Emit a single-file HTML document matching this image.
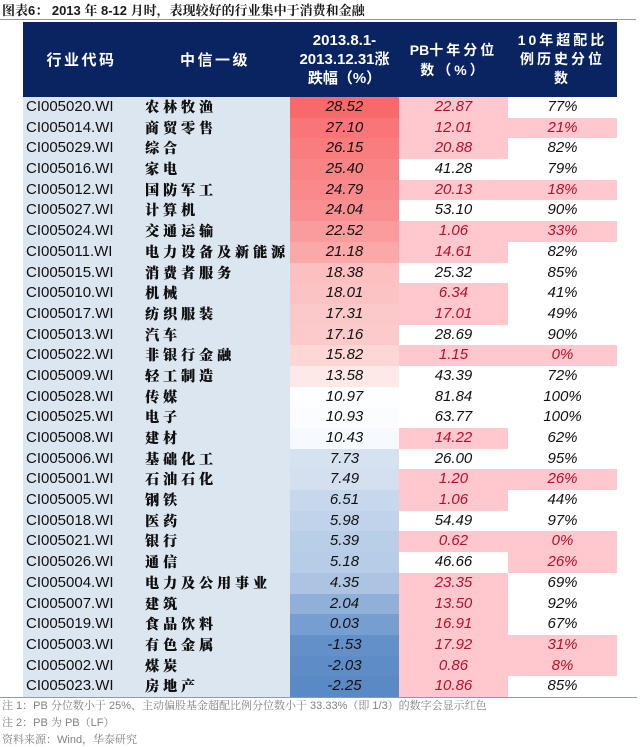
<!DOCTYPE html>
<html><head><meta charset="utf-8">
<style>
*{margin:0;padding:0;box-sizing:border-box}
body{width:640px;height:747px;background:#fff;position:relative;overflow:hidden;font-family:"Liberation Sans","Noto Sans CJK SC",sans-serif}
.title{position:absolute;left:2px;top:2px;font-size:13px;font-weight:bold;color:#1a1a1a;white-space:nowrap;line-height:18px;font-family:"Liberation Sans","Noto Serif CJK SC",serif}
.tline{position:absolute;left:0;top:19px;width:636px;height:1px;background:#8a9ab0}
.hdr{position:absolute;left:23px;top:22px;width:594px;height:75px;background:#0a2462;color:#fff;font-weight:bold}
.hc{position:absolute;top:0;height:75px;display:flex;align-items:center;justify-content:center;text-align:center}
.rows{position:absolute;left:23px;top:97px;width:594px}
.row{display:flex;height:20.69px;line-height:20.69px;font-size:15px}
.c1{width:117px;background:#dce6f1;padding-left:3px;color:#111;white-space:nowrap}
.c2{width:150px;background:#dce6f1;padding-left:5px;font-family:"Noto Serif CJK SC","Noto Sans CJK SC",serif;font-weight:900;font-size:14px;letter-spacing:4px;color:#111;white-space:nowrap;text-shadow:0.3px 0 0 #111}
.c3,.c4,.c5{width:109px;text-align:center;font-style:italic;color:#111}
.p{background:#ffc7ce;color:#b0122a}
.bline{position:absolute;left:0;top:697px;width:637px;height:1px;background:#8a9ab0}
.note{position:absolute;left:2px;font-size:11px;color:#808080;white-space:nowrap;line-height:14px;font-family:"Liberation Sans","Noto Serif CJK SC",serif}
</style></head><body>
<div class="title">图表6：&nbsp;2013 年 8-12 月时，表现较好的行业集中于消费和金融</div>
<div class="tline"></div>
<div class="hdr">
  <div class="hc" style="left:0;width:117px;font-size:15px;letter-spacing:2.5px">行业代码</div>
  <div class="hc" style="left:117px;width:150px;font-size:15px;letter-spacing:2.5px">中信一级</div>
  <div class="hc" style="left:267px;width:109px;font-size:15px;line-height:19px">2013.8.1-<br>2013.12.31涨<br>跌幅（%）</div>
  <div class="hc" style="left:376px;width:109px;font-size:14px;line-height:20px"><span><span>PB</span><span style="letter-spacing:3px">十年分位</span><br><span style="letter-spacing:3px">数（%）</span></span></div>
  <div class="hc" style="left:485px;width:109px;font-size:14px;line-height:19px;letter-spacing:3px">10年超配比<br>例历史分位<br>数</div>
</div>
<div class="rows">
<div class="row"><div class="c1">CI005020.WI</div><div class="c2">农林牧渔</div><div class="c3" style="background:rgb(248,105,107)">28.52</div><div class="c4 p">22.87</div><div class="c5">77%</div></div>
<div class="row"><div class="c1">CI005014.WI</div><div class="c2">商贸零售</div><div class="c3" style="background:rgb(249,117,119)">27.10</div><div class="c4 p">12.01</div><div class="c5 p">21%</div></div>
<div class="row"><div class="c1">CI005029.WI</div><div class="c2">综合</div><div class="c3" style="background:rgb(249,125,127)">26.15</div><div class="c4 p">20.88</div><div class="c5">82%</div></div>
<div class="row"><div class="c1">CI005016.WI</div><div class="c2">家电</div><div class="c3" style="background:rgb(249,132,133)">25.40</div><div class="c4">41.28</div><div class="c5">79%</div></div>
<div class="row"><div class="c1">CI005012.WI</div><div class="c2">国防军工</div><div class="c3" style="background:rgb(249,137,139)">24.79</div><div class="c4 p">20.13</div><div class="c5 p">18%</div></div>
<div class="row"><div class="c1">CI005027.WI</div><div class="c2">计算机</div><div class="c3" style="background:rgb(250,143,145)">24.04</div><div class="c4">53.10</div><div class="c5">90%</div></div>
<div class="row"><div class="c1">CI005024.WI</div><div class="c2">交通运输</div><div class="c3" style="background:rgb(250,156,158)">22.52</div><div class="c4 p">1.06</div><div class="c5 p">33%</div></div>
<div class="row"><div class="c1">CI005011.WI</div><div class="c2">电力设备及新能源</div><div class="c3" style="background:rgb(251,168,169)">21.18</div><div class="c4 p">14.61</div><div class="c5">82%</div></div>
<div class="row"><div class="c1">CI005015.WI</div><div class="c2">消费者服务</div><div class="c3" style="background:rgb(252,192,193)">18.38</div><div class="c4">25.32</div><div class="c5">85%</div></div>
<div class="row"><div class="c1">CI005010.WI</div><div class="c2">机械</div><div class="c3" style="background:rgb(252,195,196)">18.01</div><div class="c4 p">6.34</div><div class="c5">41%</div></div>
<div class="row"><div class="c1">CI005017.WI</div><div class="c2">纺织服装</div><div class="c3" style="background:rgb(252,201,202)">17.31</div><div class="c4 p">17.01</div><div class="c5">49%</div></div>
<div class="row"><div class="c1">CI005013.WI</div><div class="c2">汽车</div><div class="c3" style="background:rgb(253,202,203)">17.16</div><div class="c4">28.69</div><div class="c5">90%</div></div>
<div class="row"><div class="c1">CI005022.WI</div><div class="c2">非银行金融</div><div class="c3" style="background:rgb(253,214,214)">15.82</div><div class="c4 p">1.15</div><div class="c5 p">0%</div></div>
<div class="row"><div class="c1">CI005009.WI</div><div class="c2">轻工制造</div><div class="c3" style="background:rgb(254,233,233)">13.58</div><div class="c4">43.39</div><div class="c5">72%</div></div>
<div class="row"><div class="c1">CI005028.WI</div><div class="c2">传媒</div><div class="c3" style="background:rgb(253,254,255)">10.97</div><div class="c4">81.84</div><div class="c5">100%</div></div>
<div class="row"><div class="c1">CI005025.WI</div><div class="c2">电子</div><div class="c3" style="background:rgb(250,252,254)">10.93</div><div class="c4">63.77</div><div class="c5">100%</div></div>
<div class="row"><div class="c1">CI005008.WI</div><div class="c2">建材</div><div class="c3" style="background:rgb(246,249,253)">10.43</div><div class="c4 p">14.22</div><div class="c5">62%</div></div>
<div class="row"><div class="c1">CI005006.WI</div><div class="c2">基础化工</div><div class="c3" style="background:rgb(215,226,241)">7.73</div><div class="c4">26.00</div><div class="c5">95%</div></div>
<div class="row"><div class="c1">CI005001.WI</div><div class="c2">石油石化</div><div class="c3" style="background:rgb(212,224,240)">7.49</div><div class="c4 p">1.20</div><div class="c5 p">26%</div></div>
<div class="row"><div class="c1">CI005005.WI</div><div class="c2">钢铁</div><div class="c3" style="background:rgb(199,216,236)">6.51</div><div class="c4 p">1.06</div><div class="c5">44%</div></div>
<div class="row"><div class="c1">CI005018.WI</div><div class="c2">医药</div><div class="c3" style="background:rgb(193,211,234)">5.98</div><div class="c4">54.49</div><div class="c5">97%</div></div>
<div class="row"><div class="c1">CI005021.WI</div><div class="c2">银行</div><div class="c3" style="background:rgb(185,206,231)">5.39</div><div class="c4 p">0.62</div><div class="c5 p">0%</div></div>
<div class="row"><div class="c1">CI005026.WI</div><div class="c2">通信</div><div class="c3" style="background:rgb(183,204,230)">5.18</div><div class="c4">46.66</div><div class="c5 p">26%</div></div>
<div class="row"><div class="c1">CI005004.WI</div><div class="c2">电力及公用事业</div><div class="c3" style="background:rgb(172,196,226)">4.35</div><div class="c4 p">23.35</div><div class="c5">69%</div></div>
<div class="row"><div class="c1">CI005007.WI</div><div class="c2">建筑</div><div class="c3" style="background:rgb(144,176,217)">2.04</div><div class="c4 p">13.50</div><div class="c5">92%</div></div>
<div class="row"><div class="c1">CI005019.WI</div><div class="c2">食品饮料</div><div class="c3" style="background:rgb(118,158,208)">0.03</div><div class="c4 p">16.91</div><div class="c5">67%</div></div>
<div class="row"><div class="c1">CI005003.WI</div><div class="c2">有色金属</div><div class="c3" style="background:rgb(99,144,201)">-1.53</div><div class="c4 p">17.92</div><div class="c5 p">31%</div></div>
<div class="row"><div class="c1">CI005002.WI</div><div class="c2">煤炭</div><div class="c3" style="background:rgb(93,140,199)">-2.03</div><div class="c4 p">0.86</div><div class="c5 p">8%</div></div>
<div class="row"><div class="c1">CI005023.WI</div><div class="c2">房地产</div><div class="c3" style="background:rgb(90,138,198)">-2.25</div><div class="c4 p">10.86</div><div class="c5">85%</div></div>
</div>
<div class="bline"></div>
<div class="note" style="top:699px">注 1：PB 分位数小于 25%、主动偏股基金超配比例分位数小于 33.33%（即 1/3）的数字会显示红色</div>
<div class="note" style="top:716px">注 2：PB 为 PB（LF）</div>
<div class="note" style="top:733px">资料来源：Wind，华泰研究</div>
</body></html>
